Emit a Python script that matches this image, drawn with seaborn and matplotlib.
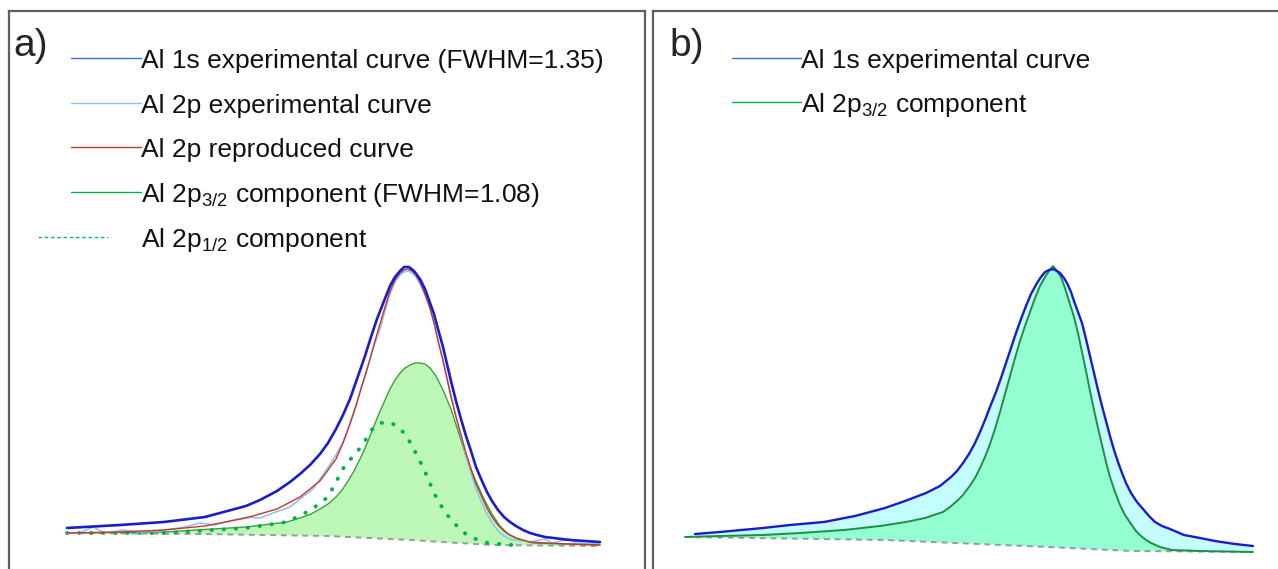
import numpy as np
import pandas as pd
import matplotlib
matplotlib.use("Agg")
import matplotlib.pyplot as plt
from matplotlib.lines import Line2D
import seaborn as sns

# ---------------- data (arbitrary units) ----------------
# Panel a
a_base_x = [67, 200, 328, 410, 492, 600]
a_base_y = [36, 35, 33, 29, 24, 23]

a_1s_x = [67, 120, 164, 205, 246, 260, 277, 290, 300, 310, 320, 328, 336, 343, 350, 357,
          365, 371, 377, 384, 390, 395, 400, 404, 409, 414, 420, 425, 429, 434, 438, 443,
          447, 451, 456, 461, 466, 471, 476, 482, 487, 492, 498, 504, 510, 516, 523, 530,
          537, 545, 570, 600]
a_1s_y = [41, 44, 47, 52, 63, 69, 78, 87, 95, 104, 115, 126, 140, 154, 170, 190,
          213, 232, 250, 268, 283, 292, 298, 302, 302, 298, 290, 280, 269, 255, 240, 222,
          205, 188, 168, 150, 133, 118, 102, 88, 77, 68, 59, 52, 47, 43, 39, 36,
          34, 32, 29, 27]

a_2pexp_x = [67, 80, 93, 105, 123, 140, 164, 185, 200, 215, 233, 247, 260, 273, 290,
             300, 313, 327, 336, 343, 350, 356, 361, 366, 370, 375, 380, 385, 390, 395,
             400, 404, 408, 412, 416, 420, 425, 430, 434, 438, 443, 447, 451, 456, 461,
             466, 471, 476, 482, 487, 492, 498, 504, 510, 516, 530, 545, 552, 570, 575, 600]
a_2pexp_y = [36, 36, 42, 36, 39, 37, 39, 42, 46, 44, 49, 52, 51, 56, 62,
             70, 80, 100, 114, 127, 146, 164, 181, 197, 210, 226, 240, 258, 275, 287,
             294, 297, 298, 296, 292, 285, 274, 260, 246, 229, 210, 192, 174, 153, 133,
             113, 96, 80, 66, 55, 46, 38, 33, 30, 29, 27, 30, 26, 30, 26, 25]

a_rep_x = [67, 120, 164, 205, 246, 277, 300, 320, 336, 343, 350, 356, 361, 366, 370, 375,
           380, 385, 390, 395, 400, 404, 408, 412, 416, 420, 425, 430, 434, 438, 443, 447,
           451, 456, 461, 466, 471, 476, 482, 487, 492, 498, 504, 510, 516, 530, 545, 570, 600]
a_rep_y = [36, 37, 39, 43, 51, 60, 72, 88, 110, 126, 145, 163, 180, 196, 210, 228,
           245, 262, 278, 289, 296, 299, 300, 298, 294, 287, 275, 261, 246, 228, 208, 190,
           172, 152, 134, 116, 100, 85, 72, 61, 52, 44, 38, 34, 31, 27, 26, 25, 24]

a_32_x = [67, 164, 246, 287, 300, 311, 320, 328, 336, 342, 348, 354, 360, 366, 372, 378,
          385, 390, 395, 400, 405, 410, 415, 420, 425, 430, 436, 443, 451, 459, 467, 475,
          484, 492, 500, 508, 520, 533, 600]
a_32_y = [36, 37, 42, 47, 51, 55, 60, 65, 72, 79, 88, 98, 110, 123, 138, 153,
          169, 180, 189, 196, 201, 204, 206, 206, 205, 201, 193, 179, 160, 135, 110, 90,
          70, 55, 43, 35, 29, 26, 24]

a_12_x = [67, 164, 246, 287, 311, 328, 344, 361, 373, 381, 389, 397, 406, 418, 426,
          434, 443, 451, 460, 467, 478, 488, 512]
a_12_y = [36, 36, 41, 47, 59, 72, 102, 122, 141, 146, 147, 143, 134, 112, 95,
          76, 60, 49, 40, 34, 29, 26, 24]

# Panel b
b_base_x = [685, 885, 1049, 1131, 1253]
b_base_y = [32, 29, 22, 18, 17]

b_1s_x = [695, 720, 763, 790, 824, 855, 885, 905, 926, 940, 951, 957, 963, 969, 975, 980,
          985, 990, 996, 1001, 1006, 1011, 1016, 1021, 1026, 1031, 1037, 1041, 1045, 1049,
          1053, 1057, 1060, 1064, 1067, 1071, 1074, 1078, 1082, 1086, 1090, 1094, 1098,
          1102, 1106, 1110, 1114, 1118, 1122, 1126, 1131, 1137, 1143, 1149, 1155, 1162,
          1170, 1184, 1200, 1215, 1235, 1253]
b_1s_y = [35, 37, 41, 44, 47, 53, 61, 68, 76, 83, 92, 98, 106, 115, 126, 137,
          149, 162, 177, 191, 206, 221, 236, 250, 263, 275, 286, 292, 297, 299,
          300, 298, 296, 291, 286, 277, 268, 257, 246, 230, 213, 196, 179,
          163, 148, 133, 119, 107, 96, 86, 76, 67, 60, 53, 47, 43,
          40, 34, 31, 28, 25, 23]

b_32_x = [685, 720, 763, 800, 844, 880, 906, 925, 943, 950, 957, 963, 969, 975, 980, 985,
          990, 995, 1000, 1005, 1010, 1015, 1020, 1025, 1030, 1035, 1040, 1045, 1049, 1053,
          1057, 1061, 1065, 1069, 1074, 1078, 1082, 1086, 1090, 1094, 1098, 1102, 1106,
          1110, 1115, 1120, 1125, 1131, 1136, 1141, 1146, 1151, 1160, 1172, 1200, 1253]
b_32_y = [32, 33, 34, 36, 39, 43, 47, 51, 57, 62, 68, 74, 82, 91, 101, 112,
          125, 140, 157, 175, 193, 211, 228, 243, 257, 271, 283, 292, 298, 303,
          298, 292, 281, 268, 252, 236, 217, 198, 178, 159, 141, 124, 107,
          92, 77, 64, 54, 45, 38, 33, 29, 26, 22, 19, 18, 17]

legend_a = ["Al 1s experimental curve (FWHM=1.35)",
            "Al 2p experimental curve",
            "Al 2p reproduced curve",
            "Al 2p$_{3/2}$ component (FWHM=1.08)",
            "Al 2p$_{1/2}$ component"]
legend_b = ["Al 1s experimental curve",
            "Al 2p$_{3/2}$ component"]
panel_labels = ["a)", "b)"]

# ---------------- styling ----------------
sns.set_theme(style="white")
FONT = ["Liberation Sans", "DejaVu Sans"]
plt.rcParams["font.family"] = FONT
plt.rcParams["mathtext.fontset"] = "custom"
plt.rcParams["mathtext.rm"] = "Liberation Sans"
plt.rcParams["mathtext.default"] = "regular"

W, H = 1278, 569
fig = plt.figure(figsize=(W / 100, H / 100), dpi=100)

C_1S = "#1c1cc8"
C_2PEXP = "#8cc0f5"
C_REP = "#c0392b"
C_GREEN_A = "#3f9f3f"
C_DOT = "#00b050"
C_BASE = "#9a9a9a"
C_FILL_A = "#bdf7b8"
C_FILL_B_CYAN = "#c4fdfd"
C_FILL_B_MINT = "#94fdd2"
C_GREEN_B = "#1f8f3f"
C_BORDER = "#5f5f5f"


def make_axes(left_px, right_px, top_px):
    ax = fig.add_axes([left_px / W, -0.01, (right_px - left_px) / W, (H - top_px) / H + 0.01])
    ax.set_xlim(left_px, right_px)
    ax.set_ylim(-0.01 * H, H - top_px)
    ax.set_xticks([])
    ax.set_yticks([])
    for s in ["left", "top", "right"]:
        ax.spines[s].set_visible(True)
        ax.spines[s].set_color(C_BORDER)
        ax.spines[s].set_linewidth(1.6)
    ax.spines["bottom"].set_visible(False)
    ax.set_facecolor("white")
    return ax


def line(ax, x, y, **kw):
    df = pd.DataFrame({"x": x, "y": y})
    sns.lineplot(data=df, x="x", y="y", ax=ax, sort=False, estimator=None, legend=False, **kw)


def poly_fill(ax, cx, cy, bx, by, color):
    ax.fill(list(cx) + list(bx[::-1]), list(cy) + list(by[::-1]), color=color, lw=0, zorder=1)


# ---------------- panel a ----------------
axa = make_axes(9, 645, 11)
poly_fill(axa, a_32_x, a_32_y, a_base_x, a_base_y, C_FILL_A)
line(axa, a_base_x, a_base_y, color=C_BASE, lw=1.4, dashes=(3, 2.5), zorder=2)
line(axa, a_32_x, a_32_y, color=C_GREEN_A, lw=1.0, zorder=3)
line(axa, a_12_x, a_12_y, color=C_DOT, lw=2.8, dashes=(0.1, 3.0), dash_capstyle="round", zorder=3)
line(axa, a_2pexp_x, a_2pexp_y, color=C_2PEXP, lw=1.1, zorder=4)
line(axa, a_rep_x, a_rep_y, color=C_REP, lw=1.0, zorder=5)
line(axa, a_1s_x, a_1s_y, color=C_1S, lw=1.9, zorder=6)
axa.set_xlabel("")
axa.set_ylabel("")

# ---------------- panel b ----------------
axb = make_axes(653, 1282, 11)
poly_fill(axb, b_1s_x, b_1s_y, b_base_x, b_base_y, C_FILL_B_CYAN)
poly_fill(axb, b_32_x, b_32_y, b_base_x, b_base_y, C_FILL_B_MINT)
line(axb, b_base_x, b_base_y, color=C_BASE, lw=1.4, dashes=(3, 2.5), zorder=2)
line(axb, b_32_x, b_32_y, color=C_GREEN_B, lw=1.4, zorder=3)
line(axb, b_1s_x, b_1s_y, color=C_1S, lw=1.7, zorder=4)
axb.set_xlabel("")
axb.set_ylabel("")

# ---------------- panel labels and legends ----------------
def fx(px):
    return px / W


def fy(py):
    return 1 - py / H


fig.text(fx(13), fy(46), panel_labels[0], fontsize=28, va="center", ha="left")
fig.text(fx(669), fy(46), panel_labels[1], fontsize=28, va="center", ha="left")

LEG_FS = 19
rows_a = [58, 103, 147, 192, 237]
styles_a = [dict(color="#3a6fd8", lw=1.0), dict(color="#8cc0f5", lw=1.0),
            dict(color="#c0392b", lw=1.0), dict(color="#00b050", lw=1.0),
            dict(color="#00c060", lw=1.0, ls=(0, (2.5, 2)))]
for i, (yy, lab, st) in enumerate(zip(rows_a, legend_a, styles_a)):
    x0, x1 = (71, 141) if i < 4 else (38, 108)
    fig.add_artist(Line2D([fx(x0), fx(x1)], [fy(yy), fy(yy)], transform=fig.transFigure, **st))
    fig.text(fx(141), fy(yy + 10), lab, fontsize=LEG_FS, va="baseline", ha="left", color="#111111")

rows_b = [58, 102]
styles_b = [dict(color="#3a6fd8", lw=1.0), dict(color="#00b050", lw=1.0)]
for yy, lab, st in zip(rows_b, legend_b, styles_b):
    fig.add_artist(Line2D([fx(732), fx(801)], [fy(yy), fy(yy)], transform=fig.transFigure, **st))
    fig.text(fx(801), fy(yy + 10), lab, fontsize=LEG_FS, va="baseline", ha="left", color="#111111")

fig.savefig("out.png", dpi=100, facecolor="white")
